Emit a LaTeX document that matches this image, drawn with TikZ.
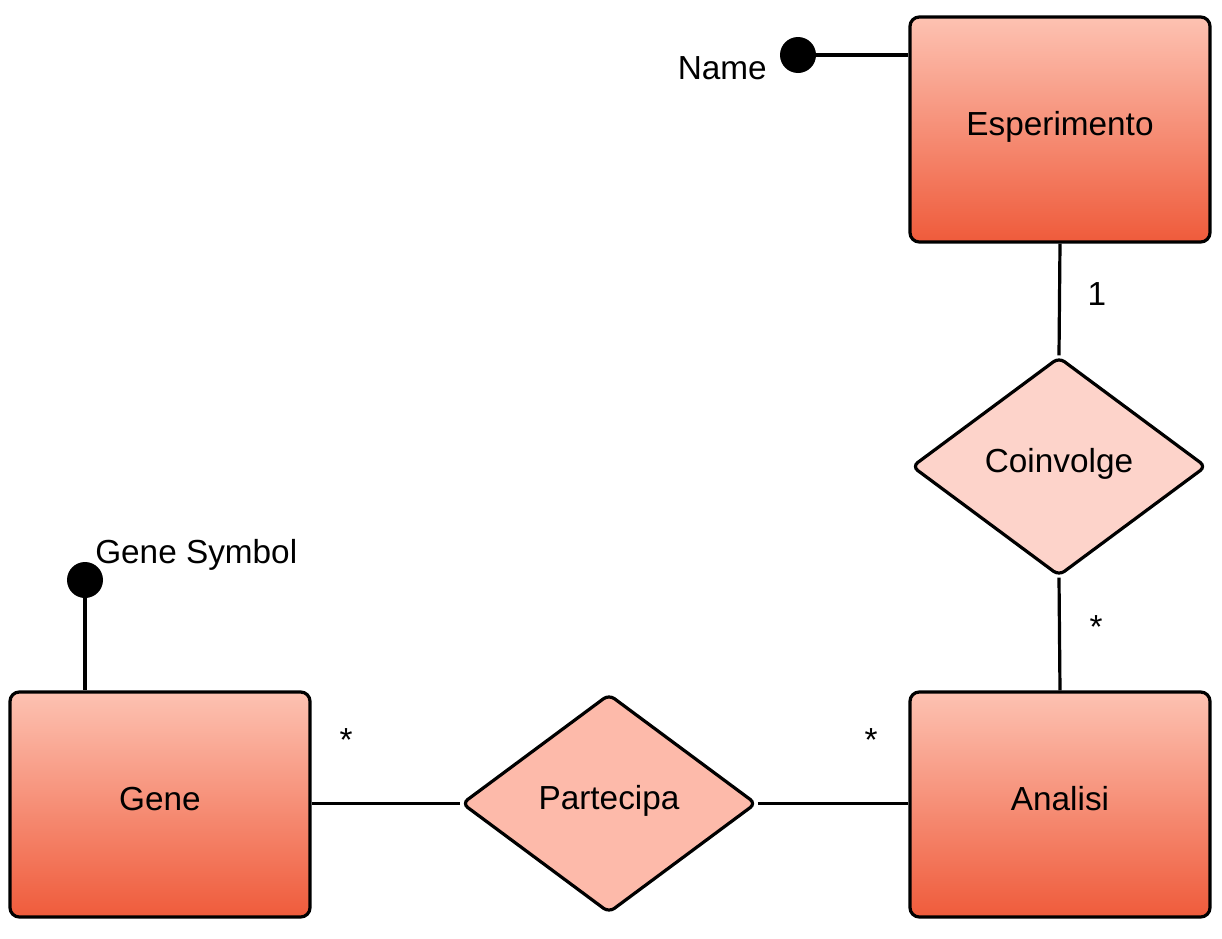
\documentclass[tikz,border=0pt]{standalone}
\usepackage{fontspec}
\setmainfont{Liberation Sans}
\usetikzlibrary{shapes.geometric}
\definecolor{topc}{HTML}{FDC2B2}
\definecolor{botc}{HTML}{EF5B3B}
\definecolor{relA}{HTML}{FDD3CA}
\definecolor{relB}{HTML}{FDBAAA}
\tikzset{
  entity/.style={draw=black, line width=2.4pt, rounded corners=7pt, top color=topc, bottom color=botc,
    minimum width=225pt, minimum height=168.75pt, inner sep=0pt, text height=18pt, text depth=8.5pt,
    font=\fontsize{25}{30}\selectfont},
  relation/.style={draw=black, line width=2.4pt, diamond, rounded corners=5pt, inner sep=0pt,
    minimum width=221pt, minimum height=164.25pt, text height=18pt, text depth=8.5pt,
    font=\fontsize{25}{30}\selectfont},
  attrdot/.style={circle, fill=black, inner sep=0pt, minimum size=27pt},
  lbl/.style={font=\fontsize{25}{30}\selectfont, inner sep=0pt},
  conn/.style={line width=2.4pt}
}
\begin{document}
\begin{tikzpicture}[x=0.75pt,y=-0.75pt]
\useasboundingbox (0,0) rectangle (1222,939);
\node[entity] (esp) at (1060,129.5) {Esperimento};
\node[entity] (gene) at (160,804.5) {Gene};
\node[entity] (ana) at (1060,804.5) {Analisi};
\node[relation, fill=relA] (coin) at (1059,466.5) {Coinvolge};
\node[relation, fill=relB] (part) at (609,803.5) {Partecipa};
\node[attrdot] (namedot) at (798,55) {};
\node[attrdot] (gsdot) at (85,580) {};
\node[lbl, anchor=east] (namelbl) at (767,68) {Name};
\node[lbl, anchor=west] (gslbl) at (95,555) {Gene Symbol};
\node[lbl] (l1) at (1097,294) {1};
\node[lbl] (l2) at (1096,627) {*};
\node[lbl] (l3) at (346,740) {*};
\node[lbl] (l4) at (871,740) {*};
\draw[conn] (esp.south) -- (coin.north);
\draw[conn] (coin.south) -- (ana.north);
\draw[conn] (gene.east |- part.west) -- (part.west);
\draw[conn] (part.east) -- (part.east -| ana.west);
\draw[conn] (namedot) -- (namedot -| esp.west);
\draw[conn] (gsdot) -- (gsdot |- gene.north);
\end{tikzpicture}
\end{document}
